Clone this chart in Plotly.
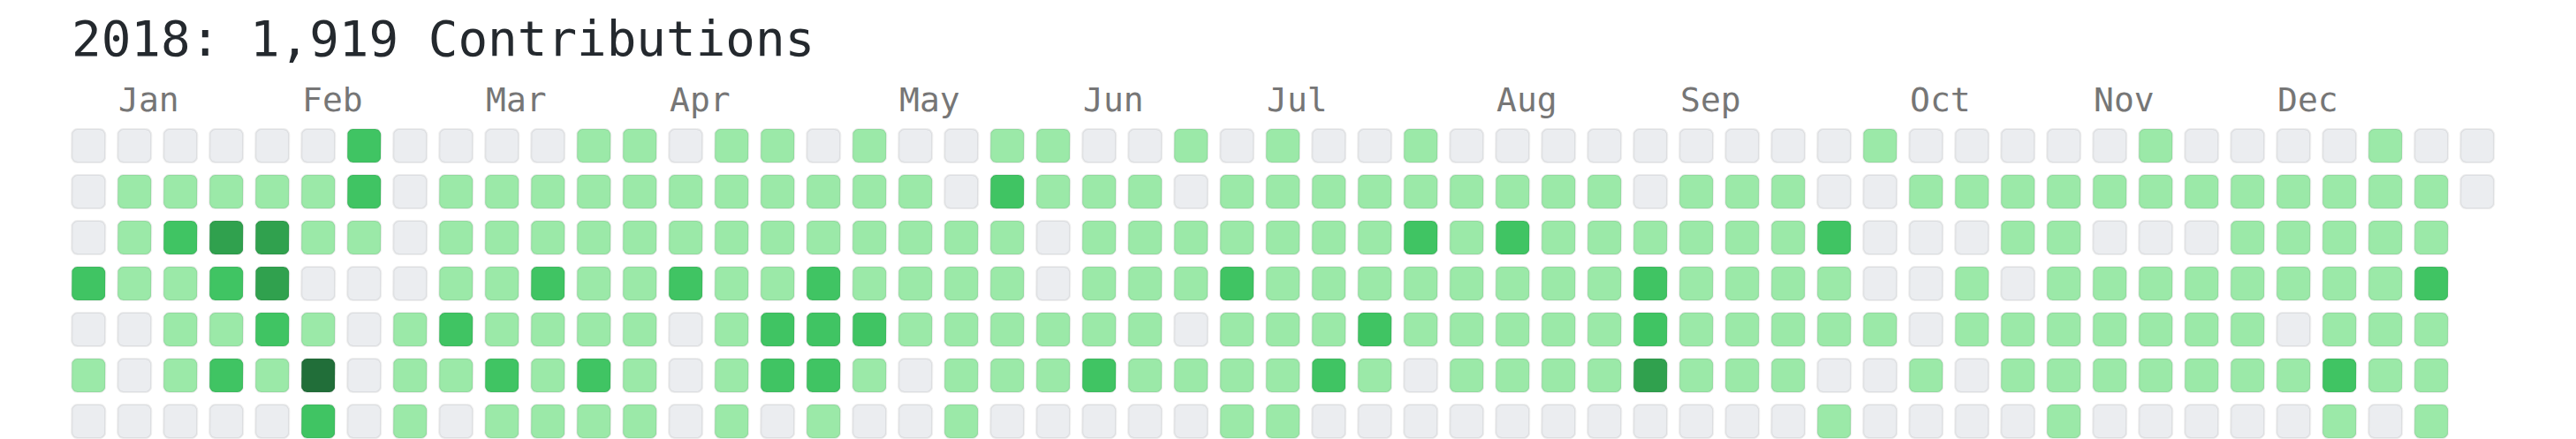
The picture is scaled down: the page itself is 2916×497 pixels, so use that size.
import datetime as dt
import math
import plotly.graph_objects as go

# ---------------- data ----------------
title_text = "2018: 1,919 Contributions"
year = 2018
start_date = dt.date(2017, 12, 31)          # first Sunday shown (column 0, row 0)
month_names = ["Jan", "Feb", "Mar", "Apr", "May", "Jun",
               "Jul", "Aug", "Sep", "Oct", "Nov", "Dec"]
weekday_names = ["Sun", "Mon", "Tue", "Wed", "Thu", "Fri", "Sat"]
level_colors = ["#ebedf0", "#9be9a8", "#40c463", "#30a14e", "#216e39"]

# contribution level (0-4) per week column, one list per weekday row
sun = [0,0,0,0,0,0,2,0,0,0,0,1,1,
       0,1,1,0,1,0,0,1,1,0,0,1,0,1,
       0,0,1,0,0,0,0,0,0,0,0,0,1,0,
       0,0,0,0,1,0,0,0,0,1,0,0]
mon = [0,1,1,1,1,1,2,0,1,1,1,1,1,
       1,1,1,1,1,1,0,2,1,1,1,0,1,1,
       1,1,1,1,1,1,1,0,1,1,1,0,0,1,
       1,1,1,1,1,1,1,1,1,1,1,0]
tue = [0,1,2,3,3,1,1,0,1,1,1,1,1,
       1,1,1,1,1,1,1,1,0,1,1,1,1,1,
       1,1,2,1,2,1,1,1,1,1,1,2,0,0,
       0,1,1,0,0,0,1,1,1,1,1]
wed = [2,1,1,2,3,0,0,0,1,1,2,1,1,
       2,1,1,2,1,1,1,1,0,1,1,1,2,1,
       1,1,1,1,1,1,1,2,1,1,1,1,0,0,
       1,0,1,1,1,1,1,1,1,1,2]
thu = [0,0,1,1,2,1,0,1,2,1,1,1,1,
       0,1,2,2,2,1,1,1,1,1,1,0,1,1,
       1,2,1,1,1,1,1,2,1,1,1,1,1,0,
       1,1,1,1,1,1,1,0,1,1,1]
fri = [1,0,1,2,1,4,0,1,1,2,1,2,1,
       0,1,2,2,1,0,1,1,1,2,1,1,1,1,
       2,1,0,1,1,1,1,3,1,1,1,0,0,1,
       0,1,1,1,1,1,1,1,2,1,1]
sat = [0,0,0,0,0,2,0,1,0,1,1,1,1,
       0,1,0,1,0,0,1,0,0,0,0,0,1,1,
       0,0,0,0,0,0,0,0,0,0,0,1,0,0,
       0,0,1,0,0,0,0,0,1,0,1]
weekday_rows = [sun, mon, tue, wed, thu, fri, sat]

# ---------------- geometry (pixel based) ----------------
W, H = 2916, 497
PITCH = 52.0          # px per week / per day
CELL = 40.0 / PITCH   # cell size in axis units
RAD = 6.5 / PITCH     # corner radius
INSET = 1.0 / PITCH
LEFT_PX, TOP_PX = 80.2, 145.0


def rounded_rect(x0, y0, size, r, n=6):
    xs, ys = [], []
    x1, y1 = x0 + size, y0 + size
    corners = [(x1 - r, y0 + r, -90), (x1 - r, y1 - r, 0),
               (x0 + r, y1 - r, 90), (x0 + r, y0 + r, 180)]
    for cx, cy, a0 in corners:
        for k in range(n + 1):
            a = math.radians(a0 + 90 * k / n)
            xs.append(cx + r * math.cos(a))
            ys.append(cy + r * math.sin(a))
    xs.append(xs[0]); ys.append(ys[0])
    xs.append(None); ys.append(None)
    return xs, ys


fig = go.Figure()
for lvl, color in enumerate(level_colors):
    px_, py_, txt = [], [], []
    for d, row in enumerate(weekday_rows):
        for w, v in enumerate(row):
            if v != lvl:
                continue
            xs, ys = rounded_rect(w + INSET, d + INSET, CELL - 2 * INSET, RAD)
            px_ += xs
            py_ += ys
            day = start_date + dt.timedelta(days=7 * w + d)
            txt += [f"{day.isoformat()} · level {lvl}"] * len(xs)
    fig.add_trace(go.Scatter(
        x=px_, y=py_, mode="lines", fill="toself", fillcolor=color,
        line=dict(color="rgba(27,31,35,0.07)", width=2.2),
        hoverinfo="text", text=txt, showlegend=False,
    ))

# month labels: first week column whose Sunday falls in that month
annotations = []
for m, name in enumerate(month_names, start=1):
    first = dt.date(year, m, 1)
    first_sun = first + dt.timedelta(days=(6 - first.weekday()) % 7)
    col = (first_sun - start_date).days // 7
    annotations.append(dict(
        x=col, y=(112.5 - TOP_PX) / PITCH, xref="x", yref="y",
        text=name, showarrow=False, xanchor="left", yanchor="middle",
        font=dict(family="DejaVu Sans Mono", size=38, color="#767676"),
    ))

annotations.append(dict(
    x=(79.0 - LEFT_PX) / PITCH, y=(43.5 - TOP_PX) / PITCH, xref="x", yref="y",
    text=title_text, showarrow=False, xanchor="left", yanchor="middle",
    font=dict(family="DejaVu Sans Mono", size=55.9, color="#24292e"),
))

fig.update_layout(
    width=W, height=H, margin=dict(l=0, r=0, t=0, b=0),
    paper_bgcolor="white", plot_bgcolor="white",
    xaxis=dict(range=[-LEFT_PX / PITCH, (W - LEFT_PX) / PITCH], visible=False,
               fixedrange=True),
    yaxis=dict(range=[(H - TOP_PX) / PITCH, -TOP_PX / PITCH], visible=False,
               fixedrange=True),
    annotations=annotations,
    hovermode="closest",
)

fig.write_html("out.html", config={"displayModeBar": False},
               post_script="document.body.style.margin='0';document.body.style.overflow='hidden';")
